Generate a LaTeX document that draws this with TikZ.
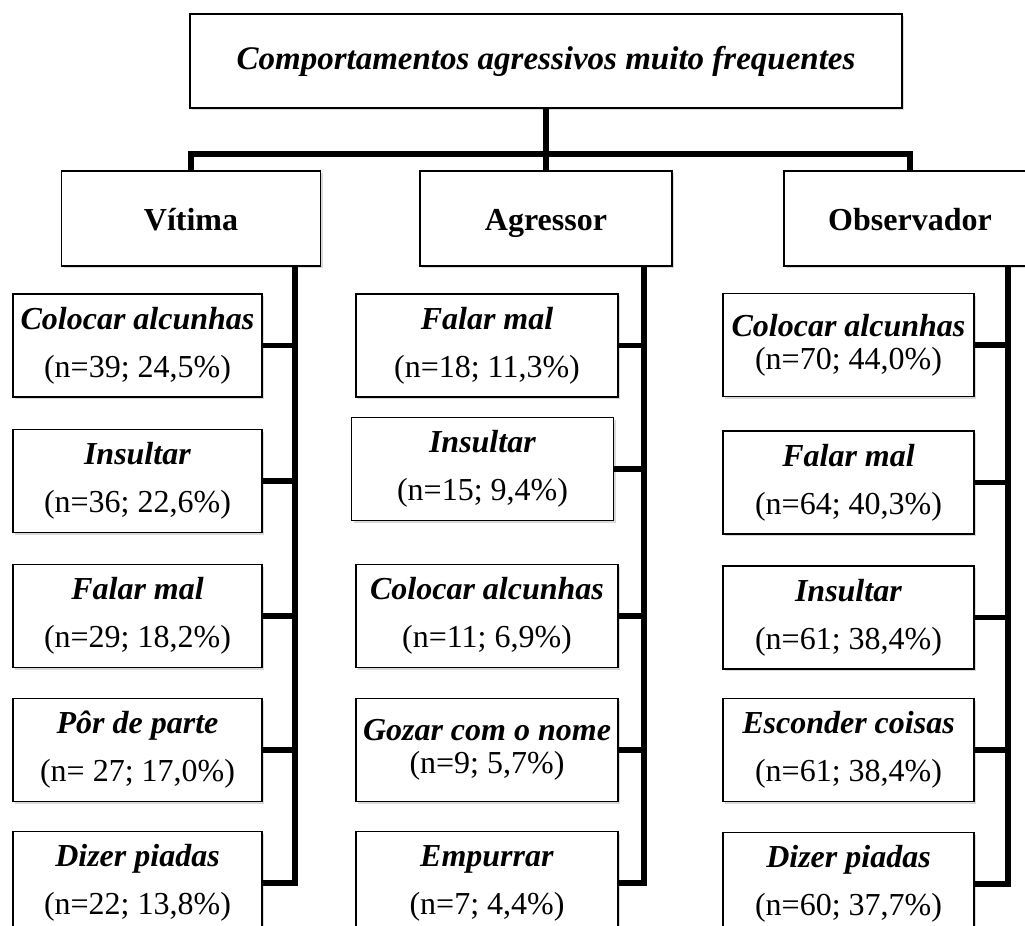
\documentclass[tikz,border=0pt]{standalone}
\usepackage{fontspec}
\setmainfont{Liberation Serif}
\usetikzlibrary{shadows}
\tikzset{
  caixa/.style={draw, line width=0.75pt, fill=white, inner sep=0pt, align=center,
    drop shadow={shadow xshift=1pt, shadow yshift=-1pt, opacity=0.3}},
  papel/.style={caixa, minimum height=47.5pt, text height=14.5pt, text depth=3pt, font=\fontsize{16}{24}\selectfont\bfseries},
  folha/.style={caixa, minimum height=51.5pt, font=\fontsize{16}{24}\selectfont},
  apertado/.style={font=\fontsize{16}{16.5}\selectfont},
  ligacao/.style={line width=2.8pt}
}
\newcommand{\rotulo}[2]{\textbf{\textit{#1}}\\#2}
\begin{document}
\begin{tikzpicture}[x=0.5pt,y=-0.5pt]
\clip (0,0) rectangle (1025,926);
% topo e papeis
\node[caixa, minimum width=356pt, minimum height=47pt, font=\fontsize{16.5}{24}\selectfont\bfseries\itshape] (topo) at (546,61) {Comportamentos agressivos muito frequentes};
\node[papel, minimum width=129.5pt] (vitima) at (191,218.5) {Vítima};
\node[papel, minimum width=126pt] (agressor) at (546,218.5) {Agressor};
\node[papel, minimum width=126pt] (observador) at (910,218.5) {Observador};
\coordinate (barra) at (546,154);
\draw[ligacao] (topo.south) -- (agressor.north);
\draw[ligacao] (vitima.north) |- (barra) -| (observador.north);
% vitima
\node[folha, minimum width=124.5pt] (v1) at (137.5,345.5) {\rotulo{Colocar alcunhas}{(n=39; 24,5\%)}};
\node[folha, minimum width=124.5pt] (v2) at (137.5,481) {\rotulo{Insultar}{(n=36; 22,6\%)}};
\node[folha, minimum width=124.5pt] (v3) at (137.5,616) {\rotulo{Falar mal}{(n=29; 18,2\%)}};
\node[folha, minimum width=124.5pt] (v4) at (137.5,750) {\rotulo{Pôr de parte}{(n= 27; 17,0\%)}};
\node[folha, minimum width=124.5pt] (v5) at (137.5,883) {\rotulo{Dizer piadas}{(n=22; 13,8\%)}};
\coordinate (vlinha) at (295,0);
\draw[ligacao] (v5.east) -| (vitima.south -| vlinha);
\draw[ligacao] (v1.east) -- (v1.east -| vlinha);
\draw[ligacao] (v2.east) -- (v2.east -| vlinha);
\draw[ligacao] (v3.east) -- (v3.east -| vlinha);
\draw[ligacao] (v4.east) -- (v4.east -| vlinha);
% agressor
\node[folha, minimum width=131pt] (a1) at (487,345.5) {\rotulo{Falar mal}{(n=18; 11,3\%)}};
\node[folha, minimum width=131pt] (a2) at (482.5,469) {\rotulo{Insultar}{(n=15; 9,4\%)}};
\node[folha, minimum width=131pt] (a3) at (487,616) {\rotulo{Colocar alcunhas}{(n=11; 6,9\%)}};
\node[folha, apertado, minimum width=131pt] (a4) at (487,750) {\rotulo{Gozar com o nome}{(n=9; 5,7\%)}};
\node[folha, minimum width=131pt] (a5) at (487,883) {\rotulo{Empurrar}{(n=7; 4,4\%)}};
\coordinate (alinha) at (644,0);
\draw[ligacao] (a5.east) -| (agressor.south -| alinha);
\draw[ligacao] (a1.east) -- (a1.east -| alinha);
\draw[ligacao] (a2.east) -- (a2.east -| alinha);
\draw[ligacao] (a3.east) -- (a3.east -| alinha);
\draw[ligacao] (a4.east) -- (a4.east -| alinha);
% observador
\node[folha, apertado, minimum width=125.5pt] (o1) at (848.5,345) {\rotulo{Colocar alcunhas}{(n=70; 44,0\%)}};
\node[folha, minimum width=125.5pt] (o2) at (848.5,482.5) {\rotulo{Falar mal}{(n=64; 40,3\%)}};
\node[folha, minimum width=125.5pt] (o3) at (848.5,617.5) {\rotulo{Insultar}{(n=61; 38,4\%)}};
\node[folha, minimum width=125.5pt] (o4) at (848.5,750) {\rotulo{Esconder coisas}{(n=61; 38,4\%)}};
\node[folha, minimum width=125.5pt] (o5) at (848.5,884) {\rotulo{Dizer piadas}{(n=60; 37,7\%)}};
\coordinate (olinha) at (1008,0);
\draw[ligacao] (o5.east) -| (observador.south -| olinha);
\draw[ligacao] (o1.east) -- (o1.east -| olinha);
\draw[ligacao] (o2.east) -- (o2.east -| olinha);
\draw[ligacao] (o3.east) -- (o3.east -| olinha);
\draw[ligacao] (o4.east) -- (o4.east -| olinha);
\end{tikzpicture}
\end{document}
